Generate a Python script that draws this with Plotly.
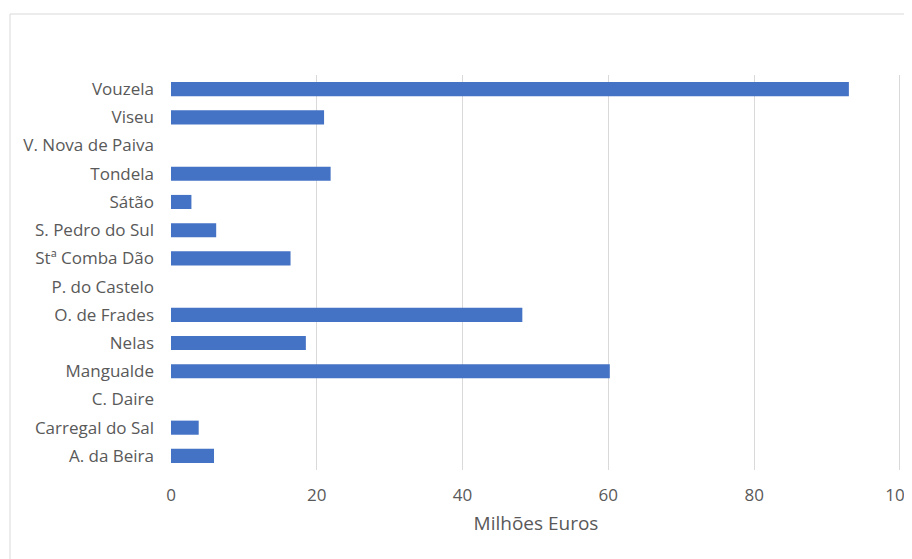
import plotly.graph_objects as go

municipios = ["A. da Beira", "Carregal do Sal", "C. Daire", "Mangualde", "Nelas",
              "O. de Frades", "P. do Castelo", "Stª Comba Dão", "S. Pedro do Sul",
              "Sátão", "Tondela", "V. Nova de Paiva", "Viseu", "Vouzela"]
valores = [5.9, 3.8, 0, 60.2, 18.5, 48.2, 0, 16.4, 6.2, 2.8, 21.9, 0, 21.0, 93.0]
x_ticks = [0, 20, 40, 60, 80, 100]
x_title = "Milhões Euros"

W, H = 904, 551
L, R, T, B = 163, 11, 67, 89
pw, ph = W - L - R, H - T - B

fig = go.Figure(go.Bar(
    y=municipios, x=valores, orientation="h",
    marker=dict(color="#4472C4", line=dict(width=0)),
))

fam = "Open Sans, Lato, sans-serif"
yfont = dict(family=fam, size=17, color="#595959")
xfont = dict(family=fam, size=17, color="#595959")
tfont = dict(family=fam, size=19, color="#595959")

fig.update_layout(
    width=W, height=H,
    margin=dict(l=L, r=R, t=T, b=B, autoexpand=False),
    paper_bgcolor="white", plot_bgcolor="white",
    bargap=0.5, showlegend=False, font=yfont,
    xaxis=dict(range=[0, 100.15], tickvals=x_ticks, showgrid=True, gridcolor="#d9d9d9",
               gridwidth=1, zeroline=False, showline=False, ticks="",
               ticklabeloverflow="allow",
               ticklabelstandoff=13, title=dict(text=x_title, standoff=11, font=tfont),
               tickfont=xfont, fixedrange=True),
    yaxis=dict(showgrid=False, zeroline=False, showline=False, ticks="",
               ticklabelstandoff=16, tickfont=yfont, fixedrange=True),
    shapes=[dict(type="rect", xref="paper", yref="paper",
                 x0=(2 - L) / pw, x1=1.2, y0=-0.5, y1=1 + (T - 6) / ph,
                 line=dict(color="#d9d9d9", width=1), layer="below")],
)

fig.write_html("out.html")
